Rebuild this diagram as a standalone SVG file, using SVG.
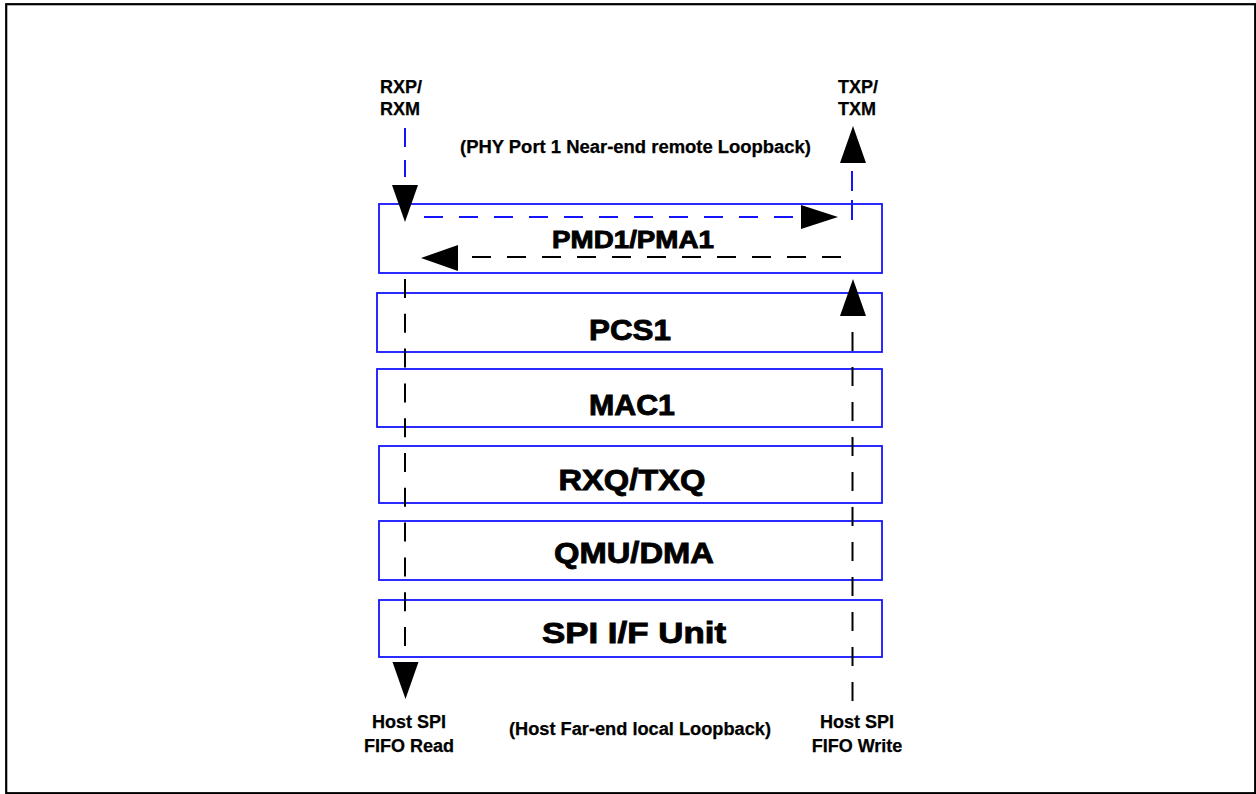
<svg xmlns="http://www.w3.org/2000/svg" width="1256" height="794" viewBox="0 0 1256 794">
<style>
.frame{fill:#fff;stroke:#000;stroke-width:2.2}
.box{fill:#fff;stroke:#1414ff;stroke-width:1.8}
.big{font-family:"Liberation Sans",Arial,sans-serif;font-weight:bold;font-size:30px;fill:#000;stroke:#000;stroke-width:0.9;text-anchor:middle}
.lbl{font-family:"Liberation Sans",Arial,sans-serif;font-weight:bold;font-size:18px;fill:#000;stroke:#000;stroke-width:0.25}
.bd{fill:none;stroke:#1414ff;stroke-width:2}
.kd{fill:none;stroke:#000;stroke-width:2}
.ah{fill:#000;stroke:none}
</style>
<rect class="frame" x="6.2" y="4.2" width="1249" height="789"/>

<g id="pmd">
<rect class="box" x="379" y="204" width="503" height="69"/>
<text class="big" x="633" y="248" style="font-size:24.5px" textLength="162" lengthAdjust="spacingAndGlyphs">PMD1/PMA1</text>
</g>
<g id="pcs">
<rect class="box" x="377" y="293" width="505" height="59"/>
<text class="big" x="630" y="340" textLength="82" lengthAdjust="spacingAndGlyphs">PCS1</text>
</g>
<g id="mac">
<rect class="box" x="377" y="369" width="505" height="58"/>
<text class="big" x="632" y="415" textLength="86" lengthAdjust="spacingAndGlyphs">MAC1</text>
</g>
<g id="rxq">
<rect class="box" x="379" y="446" width="503" height="57"/>
<text class="big" x="632" y="490" textLength="147" lengthAdjust="spacingAndGlyphs">RXQ/TXQ</text>
</g>
<g id="qmu">
<rect class="box" x="379" y="521" width="503" height="59"/>
<text class="big" x="634" y="563" textLength="160" lengthAdjust="spacingAndGlyphs">QMU/DMA</text>
</g>
<g id="spi">
<rect class="box" x="379" y="600" width="503" height="57"/>
<text class="big" x="634" y="643" textLength="184" lengthAdjust="spacingAndGlyphs">SPI I/F Unit</text>
</g>

<g id="labels">
<text class="lbl" x="380" y="93">RXP/</text>
<text class="lbl" x="380" y="115">RXM</text>
<text class="lbl" x="838" y="93">TXP/</text>
<text class="lbl" x="838" y="115">TXM</text>
<text class="lbl" x="460" y="153" textLength="351" lengthAdjust="spacingAndGlyphs">(PHY Port 1 Near-end remote Loopback)</text>
<text class="lbl" x="409" y="728" text-anchor="middle">Host SPI</text>
<text class="lbl" x="409" y="752" text-anchor="middle">FIFO Read</text>
<text class="lbl" x="857" y="728" text-anchor="middle">Host SPI</text>
<text class="lbl" x="857" y="752" text-anchor="middle">FIFO Write</text>
<text class="lbl" x="509" y="735" textLength="262" lengthAdjust="spacingAndGlyphs">(Host Far-end local Loopback)</text>
</g>

<g id="connectors">
<!-- near-end remote loopback (blue) -->
<path class="bd" d="M405,128 V177" stroke-dasharray="19 13"/>
<polygon class="ah" points="392,185 418,185 405,222"/>
<path class="bd" d="M424,217 H793" stroke-dasharray="19 16"/>
<polygon class="ah" points="801,205 801,229 838,217"/>
<path class="bd" d="M852,220 V171" stroke-dasharray="20 9"/>
<polygon class="ah" points="840,163 866,163 853,126"/>
<!-- far-end local loopback (black) -->
<path class="kd" d="M852.5,701 V332" stroke-dasharray="19 16"/>
<polygon class="ah" points="840,316 866,316 853,279"/>
<path class="kd" d="M841,257 H472" stroke-dasharray="19 16"/>
<polygon class="ah" points="458,245 458,271 421,258"/>
<path class="kd" d="M405,279 V647" stroke-dasharray="19 15.8"/>
<polygon class="ah" points="392.5,662 418.5,662 405.5,699"/>
</g>
</svg>
